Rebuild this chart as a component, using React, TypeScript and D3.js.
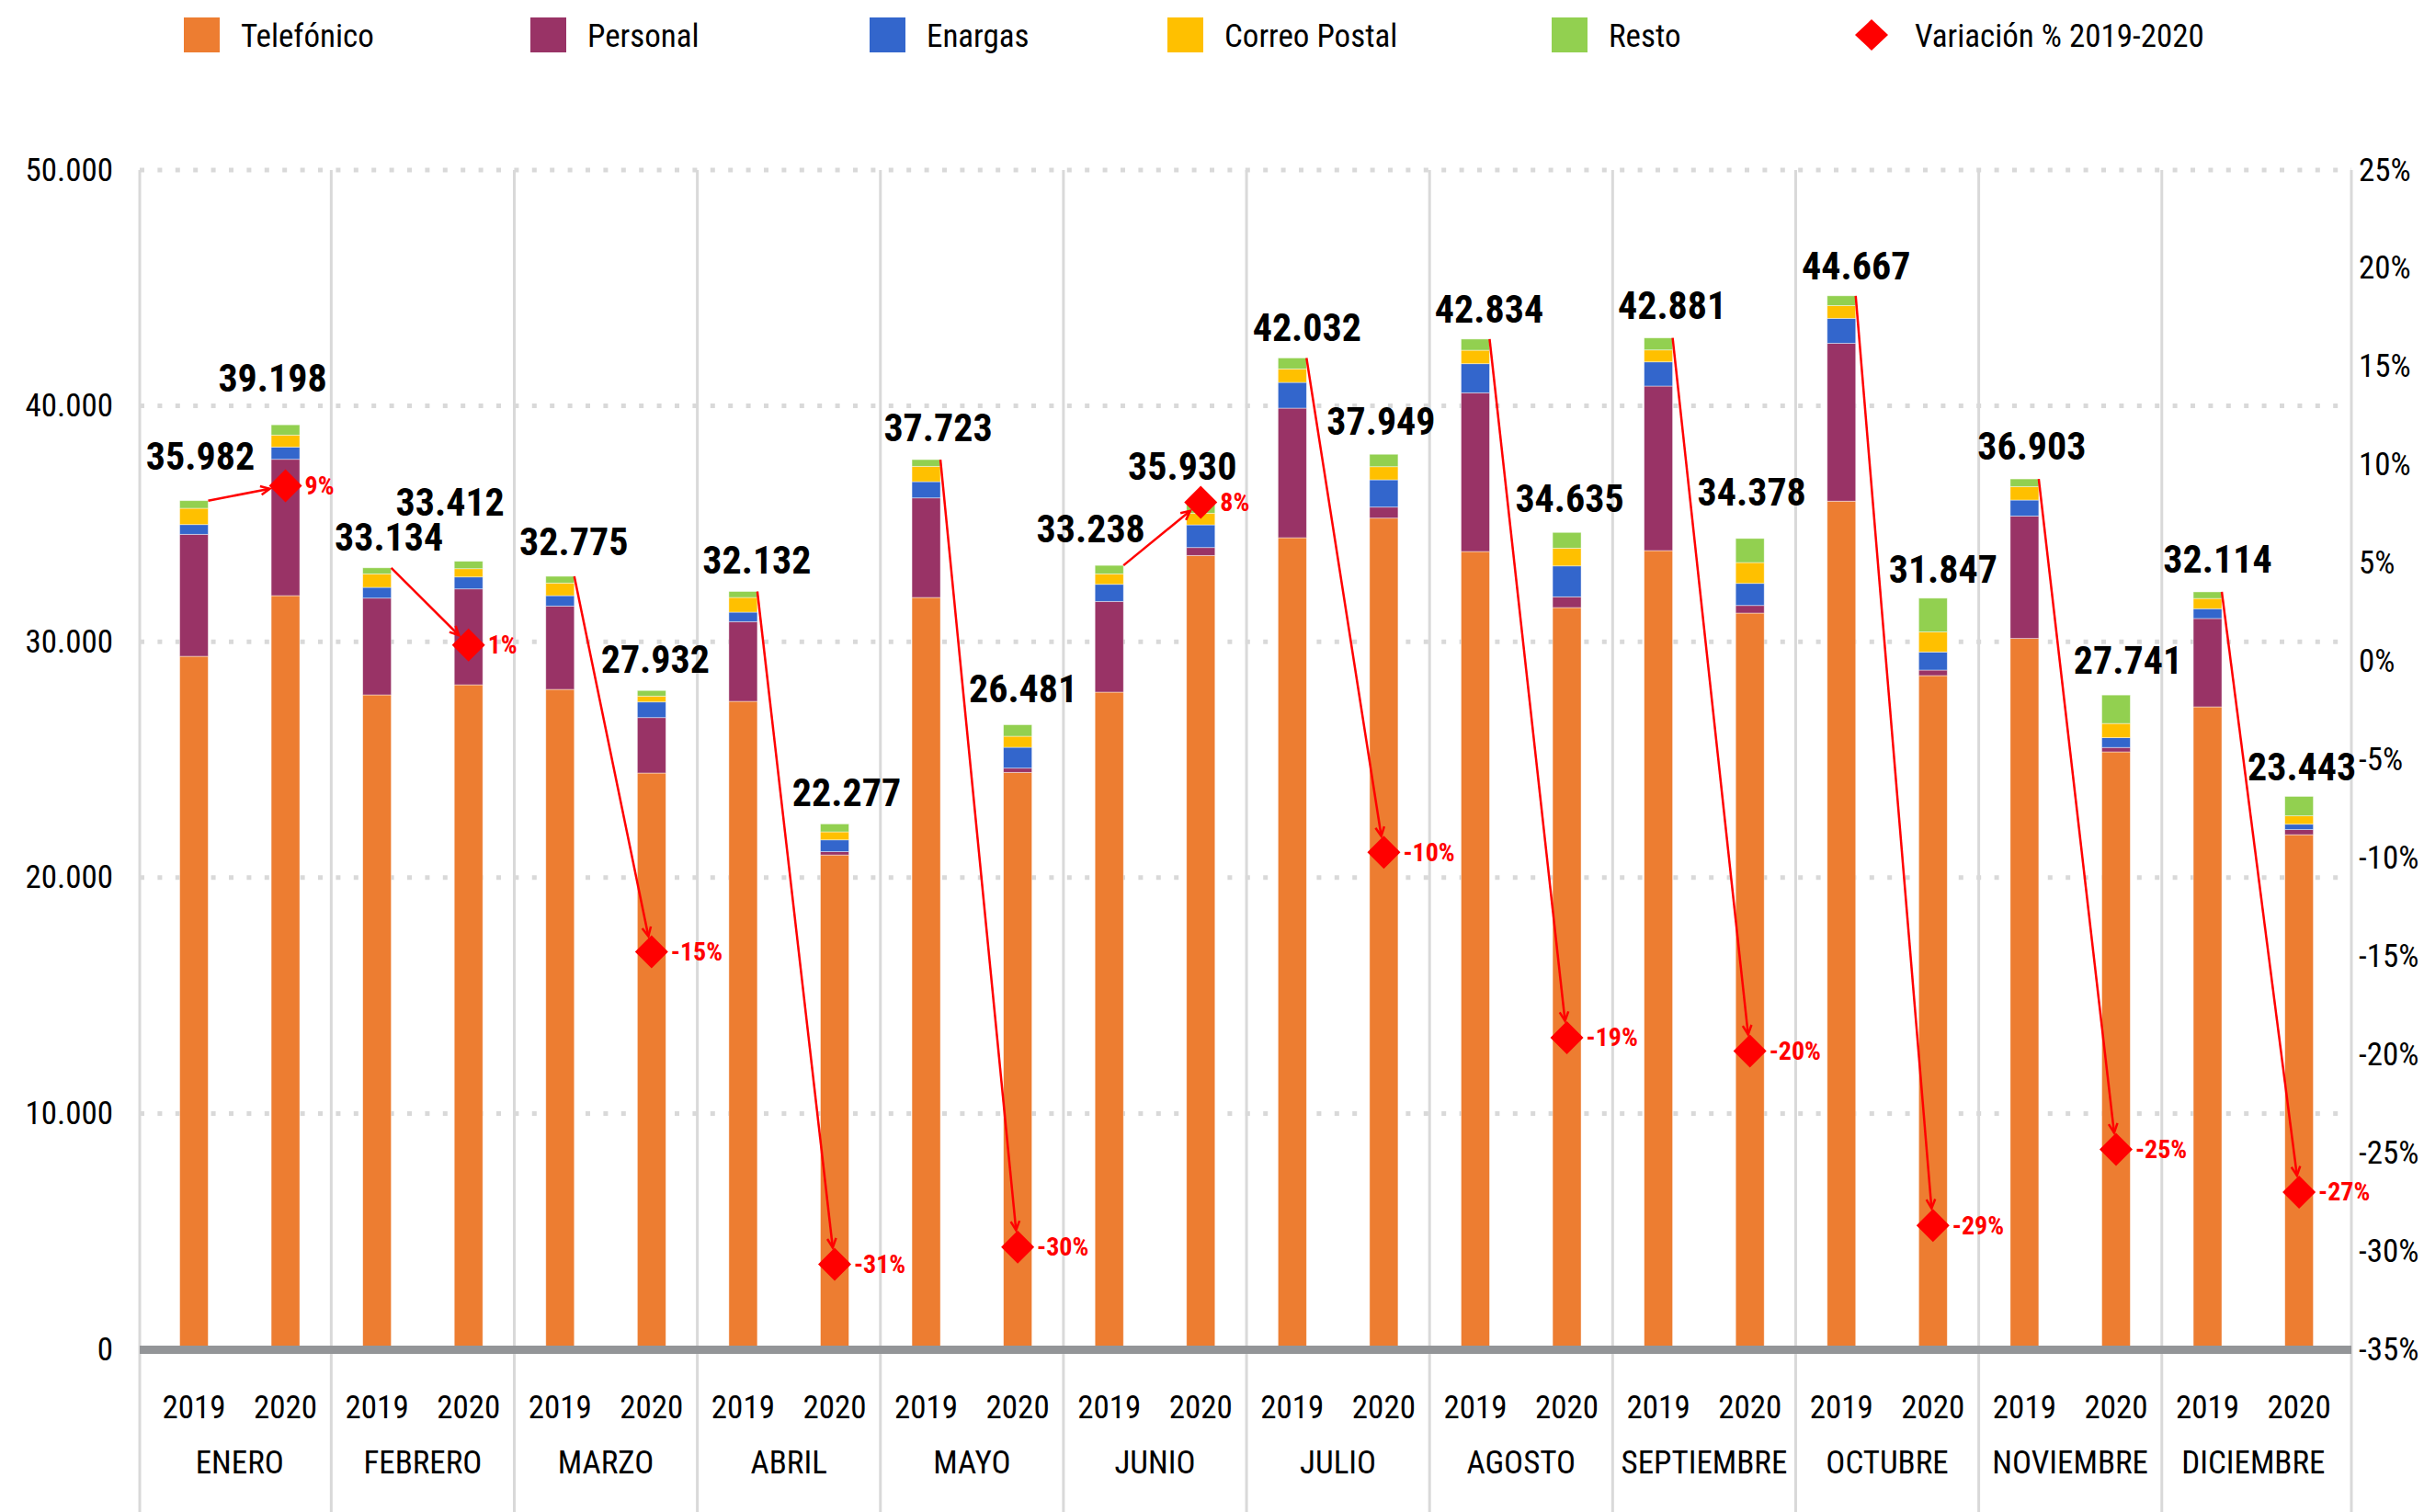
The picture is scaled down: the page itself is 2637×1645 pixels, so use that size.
import React from "react";
import * as d3 from "d3";

// ---- DATA ----
const months = ["ENERO", "FEBRERO", "MARZO", "ABRIL", "MAYO", "JUNIO", "JULIO", "AGOSTO", "SEPTIEMBRE", "OCTUBRE", "NOVIEMBRE", "DICIEMBRE"];
const years = ["2019", "2020"];
const seriesNames = ["Telefónico", "Personal", "Enargas", "Correo Postal", "Resto"];
// values ordered: ENERO 2019, ENERO 2020, FEBRERO 2019, FEBRERO 2020, ...
const telefonico = [29383, 31955, 27747, 28175, 27980, 24434, 27474, 20960, 31877, 24461, 27864, 33658, 34411, 35241, 33826, 31449, 33865, 31215, 35962, 28565, 30139, 25331, 27240, 21819];
const personal = [5172, 5780, 4103, 4065, 3535, 2350, 3378, 140, 4221, 180, 3846, 336, 5494, 468, 6730, 456, 6976, 323, 6691, 234, 5191, 187, 3745, 215];
const enargas = [413, 522, 456, 507, 440, 663, 402, 500, 690, 884, 725, 962, 1091, 1157, 1233, 1309, 1025, 936, 1060, 768, 678, 413, 417, 230];
const correoPostal = [690, 506, 573, 350, 535, 249, 623, 340, 650, 468, 444, 495, 573, 557, 571, 756, 506, 884, 541, 849, 573, 604, 433, 354];
const resto = [324, 435, 255, 315, 285, 236, 255, 337, 285, 488, 359, 479, 463, 526, 474, 665, 509, 1020, 413, 1431, 322, 1206, 279, 825];
const leftTicks = [0, 10000, 20000, 30000, 40000, 50000];
const rightTicks = [-35, -30, -25, -20, -15, -10, -5, 0, 5, 10, 15, 20, 25];
const variationLabel = "Variación % 2019-2020";

// ---- LAYOUT (label nudges, px: [dx, dy] from bar centre / bar top) ----
const labelNudges = [
  [7, -34], [-14, -36], [13, -19], [-20, -50], [15, -23], [4, -19],
  [15, -19], [13, -19], [13, -20], [6, -24], [-20, -25], [-20, -24],
  [16, -18], [-3, -21], [15, -18], [3, -22], [15, -21], [2, -36],
  [16, -18], [11, -17], [8, -21], [13, -23], [11, -21], [3, -17],
];

const W = 2637, H = 1645;
const FONT = "'Roboto Condensed', 'Liberation Sans Narrow', 'Arial Narrow', 'DejaVu Sans Condensed', Roboto, sans-serif";
const colors = ["#ED7D31", "#993366", "#3366CC", "#FFC000", "#92D050"];
const RED = "#FF0000";
const GRID = "#D9D9D9";

const fmt = d3.formatLocale({ decimal: ",", thousands: ".", grouping: [3], currency: ["$", ""] }).format(",.0f");

export default function App() {
  const plotL = 152, plotR = 2558, yTop = 185, yZero = 1468;
  const innerL = 161.2, innerR = 2550.9;

  const xMonth = d3.scaleBand<string>().domain(months).range([innerL, innerR]).padding(0);
  const xYear = d3.scaleBand<string>().domain(years).range([0, xMonth.bandwidth()]).paddingInner(1 - 31 / (xMonth.bandwidth() / 2)).paddingOuter((1 - 31 / (xMonth.bandwidth() / 2)) / 2);
  const y = d3.scaleLinear().domain([0, 50000]).range([yZero, yTop]);
  const yR = d3.scaleLinear().domain([-35, 25]).range([yZero, yTop]);

  const seriesVals = [telefonico, personal, enargas, correoPostal, resto];
  const rows = telefonico.map((_, i) => {
    const r: any = { idx: i, month: months[Math.floor(i / 2)], year: years[i % 2] };
    seriesNames.forEach((s, k) => (r[s] = seriesVals[k][i]));
    return r;
  });
  const stacked = d3.stack<any>().keys(seriesNames)(rows);
  const totals = rows.map((r) => d3.sum(seriesNames, (s) => r[s]));
  const bw = xYear.bandwidth();
  const cx = (i: number) => (xMonth(months[Math.floor(i / 2)]) as number) + (xYear(years[i % 2]) as number) + bw / 2;

  const variations = months.map((_, m) => (totals[2 * m + 1] / totals[2 * m] - 1) * 100);

  const dividers = months.slice(1).map((m) => xMonth(m) as number);
  const half = 18;

  return (
    <svg width={W} height={H} style={{ position: "absolute", left: 0, top: 0, background: "#fff" }} fontFamily={FONT}>
      <rect x={0} y={0} width={W} height={H} fill="#fff" />
      {/* horizontal dotted gridlines */}
      {leftTicks.filter((t) => t > 0).map((t) => (
        <line key={t} x1={plotL} x2={plotR} y1={y(t)} y2={y(t)} stroke={GRID} strokeWidth={5} strokeDasharray="5 14.4" />
      ))}
      {/* vertical month lines */}
      {[plotL, ...dividers, plotR].map((x, i) => (
        <line key={i} x1={x} x2={x} y1={yTop} y2={H} stroke={GRID} strokeWidth={3} />
      ))}
      {/* bars */}
      {stacked.map((layer, k) => (
        <g key={layer.key} fill={colors[k]}>
          {layer.map((d, i) => (
            <rect key={i} x={cx(i) - bw / 2} width={bw} y={y(d[1])} height={Math.max(0, y(d[0]) - y(d[1]))} stroke="#ffffff" strokeOpacity={0.55} strokeWidth={0.8} />
          ))}
        </g>
      ))}
      {/* zero axis band */}
      <line x1={plotL} x2={plotR} y1={yZero + 0.5} y2={yZero + 0.5} stroke="#939598" strokeWidth={9} />
      {/* left axis labels */}
      {leftTicks.map((t) => (
        <text key={t} x={123} y={y(t)} textAnchor="end" dominantBaseline="central" fontSize={35} fill="#000">{fmt(t)}</text>
      ))}
      {/* right axis labels */}
      {rightTicks.map((t) => (
        <text key={t} x={2566} y={yR(t)} textAnchor="start" dominantBaseline="central" fontSize={35} fill="#000">{`${t}%`}</text>
      ))}
      {/* year labels */}
      {rows.map((r, i) => (
        <text key={i} x={cx(i)} y={1543} textAnchor="middle" fontSize={35} fill="#000">{r.year}</text>
      ))}
      {/* month labels */}
      {months.map((m) => (
        <text key={m} x={(xMonth(m) as number) + xMonth.bandwidth() / 2} y={1603} textAnchor="middle" fontSize={35} fill="#000">{m}</text>
      ))}
      {/* arrows & diamonds */}
      {months.map((m, mi) => {
        const i0 = 2 * mi, i1 = 2 * mi + 1;
        const sx = cx(i0) + bw / 2, sy = y(totals[i0]);
        const ex = cx(i1), ey = yR(variations[mi]);
        const dx = ex - sx, dy = ey - sy;
        const len = Math.hypot(dx, dy);
        const ux = dx / len, uy = dy / len;
        const t = half / (Math.abs(ux) + Math.abs(uy)) + 2;
        const tx = ex - ux * t, ty = ey - uy * t;
        const ah = 11, aw = 0.45;
        const a1x = tx - ah * (ux * Math.cos(aw) - uy * Math.sin(aw));
        const a1y = ty - ah * (uy * Math.cos(aw) + ux * Math.sin(aw));
        const a2x = tx - ah * (ux * Math.cos(-aw) - uy * Math.sin(-aw));
        const a2y = ty - ah * (uy * Math.cos(-aw) + ux * Math.sin(-aw));
        return (
          <g key={m}>
            <line x1={sx} y1={sy} x2={tx} y2={ty} stroke={RED} strokeWidth={2.5} />
            <polyline points={`${a1x},${a1y} ${tx},${ty} ${a2x},${a2y}`} fill="none" stroke={RED} strokeWidth={2.5} />
            <path d={`M${ex},${ey - half} L${ex + half},${ey} L${ex},${ey + half} L${ex - half},${ey} Z`} fill={RED} />
            <text x={ex + 21} y={ey} dominantBaseline="central" fontSize={28} fontWeight="bold" fill={RED}>{`${Math.round(variations[mi])}%`}</text>
          </g>
        );
      })}
      {/* total labels */}
      {totals.map((t, i) => (
        <text key={i} x={cx(i) + labelNudges[i][0]} y={y(t) + labelNudges[i][1]} textAnchor="middle" fontSize={42} fontWeight="bold" fill="#000">{fmt(t)}</text>
      ))}
      {/* legend */}
      {seriesNames.map((s, k) => {
        const lx = [200, 577, 946, 1270, 1688][k];
        return (
          <g key={s}>
            <rect x={lx} y={19} width={39} height={38} fill={colors[k]} />
            <text x={lx + 62} y={39} dominantBaseline="central" fontSize={35} fill="#000">{s}</text>
          </g>
        );
      })}
      <path d={`M2036,21 L2054,38 L2036,55 L2018,38 Z`} fill={RED} />
      <text x={2083} y={39} dominantBaseline="central" fontSize={35} fill="#000">{variationLabel}</text>
    </svg>
  );
}
